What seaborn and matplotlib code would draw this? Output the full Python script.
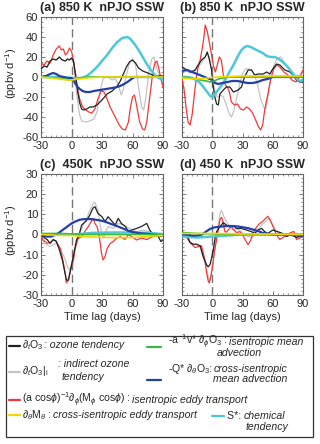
import numpy as np
import pandas as pd
import matplotlib
matplotlib.use("Agg")
import matplotlib.pyplot as plt
from matplotlib.lines import Line2D
from matplotlib.patches import Rectangle
from matplotlib.ticker import MultipleLocator
import seaborn as sns

# ---- data: (lag in days, ppbv/day) ----
a_black = [(-30, 8), (-27, 11), (-24, 10), (-21, 16), (-18, 18), (-15, 17), (-12, 20), (-9, 17), (-6, 16), (-4, 18),
           (-2, 17), (0, 19), (2, 16), (4, 2), (6, -14), (8, -26), (10, -32), (12, -33), (15, -32), (18, -30), (21, -30),
           (25, -28), (30, -23), (35, -17), (40, -14), (45, -9), (48, -4), (51, 3), (54, 10), (57, 15), (60, 17),
           (63, 14), (66, 9), (70, 6), (75, 4), (80, 2), (85, 1), (90, 1)]
a_gray = [(-30, 8), (-27, 11), (-24, 10), (-21, 16), (-18, 18), (-15, 17), (-12, 20), (-9, 17), (-6, 16), (-4, 18),
          (-2, 17), (0, 19), (2, 14), (4, -5), (6, -25), (8, -38), (10, -44), (14, -45), (18, -44), (22, -42), (25, -35),
          (28, -15), (31, -2), (34, 0), (37, -1), (40, -3), (43, -1), (46, -8), (49, -18), (51, -12), (54, 2), (57, 14),
          (60, 18), (63, 12), (66, -10), (69, -30), (71, -33), (73, -22), (76, 5), (79, 18), (81, 20), (84, 8),
          (87, 0), (90, -3)]
a_red = [(-30, 14), (-27, 12), (-24, 16), (-21, 14), (-18, 22), (-15, 28), (-12, 31), (-10, 27), (-8, 28), (-6, 22),
         (-4, 24), (-2, 29), (0, 26), (2, 16), (4, 2), (6, -12), (8, -22), (11, -30), (14, -33), (17, -35), (20, -36),
         (23, -32), (26, -22), (29, -14), (32, -15), (35, -22), (38, -30), (41, -36), (44, -42), (47, -48), (50, -52),
         (53, -53), (56, -45), (58, -30), (60, -20), (62, -18), (64, -28), (67, -45), (70, -52), (72, -53), (74, -45),
         (77, -20), (80, 5), (82, 14), (84, 16), (86, 8), (88, -2), (90, -10)]
a_cyan = [(-30, 0), (-20, 0), (-10, 0), (0, -1), (5, -1), (10, -1), (15, 1), (20, 5), (25, 10), (30, 16), (35, 22),
          (40, 29), (45, 35), (50, 39), (55, 40), (58, 38), (62, 33), (66, 27), (70, 20), (74, 13), (78, 7), (82, 2),
          (86, -1), (90, -3)]
a_blue = [(-30, 0), (-25, 1), (-21, 3), (-18, 4), (-15, 3), (-12, 1), (-8, 0), (-4, -1), (0, -1), (2, -3), (4, -7),
          (6, -10), (8, -12), (11, -14), (14, -15), (18, -15), (22, -14), (28, -13), (34, -12), (40, -11), (45, -10),
          (50, -8), (55, -5), (59, -2), (62, 0), (70, 0), (80, 0), (90, 0)]
a_green = [(-30, 0), (-15, -1), (-6, -2), (-2, -3), (1, -3), (4, -2), (8, -1), (15, 0), (40, 0), (70, 0), (90, 0)]
a_yellow = [(-30, 0), (-20, -1), (-12, -2), (-5, -3), (0, -3), (5, -2), (15, -1), (30, 0), (50, 0), (70, 0), (90, 0)]

b_black = [(-30, 10), (-27, 8), (-24, 7), (-22, 5), (-19, 6), (-17, 7), (-14, 12), (-10.6, 17), (-7, 20), (-5, 25),
           (-3, 18), (-0.7, 7), (1, -10), (2.6, -20), (4.3, -27), (6, -28), (7.6, -17), (11, -13), (14, -10),
           (17.5, -10), (21, -15), (25.7, -13), (29, -10), (32, 0), (35.6, 7), (39, 7), (42, 2), (45.5, 3), (50.5, 3),
           (54, 5), (57, 3), (60, 8), (63.7, 13), (67, 12), (72, 7), (77, 5), (80, 2), (83.5, -3), (86.8, -5), (90, -5)]
b_gray = [(-30, 8), (-26, 6), (-22, 4), (-18, 5), (-14, 10), (-10, 15), (-7, 20), (-5, 24), (-3, 20), (-1, 10),
          (1, -5), (3, -15), (5, -20), (8, -18), (11, -20), (14, -28), (17, -37), (19, -40), (21, -35), (24, -22),
          (27, -8), (30, 3), (33, 8), (36, 8), (39, 7), (42, 2), (45, -8), (48, -22), (51, -30), (53, -32), (56, -15),
          (59, 5), (62, 14), (65, 19), (68, 20), (71, 15), (75, 10), (80, 3), (85, -3), (90, -6)]
b_red = [(-30, -2), (-28, -12), (-26, -30), (-24, -45), (-22, -48), (-20, -38), (-18, -20), (-16, -2), (-14, 10),
         (-12, 17), (-10, 28), (-8, 42), (-7, 52), (-5, 46), (-3, 35), (-1, 24), (1, 12), (3, 5), (5, 12), (7, 20),
         (9, 17), (11, 2), (13, -8), (15, -10), (17, -15), (19, -25), (22, -28), (25, -27), (28, -32), (31, -33),
         (34, -30), (37, -32), (40, -36), (43, -43), (46, -50), (48, -53), (50, -48), (52, -33), (55, -18), (58, -2),
         (61, 8), (64, 12), (67, 10), (71, 5), (75, 2), (79, -3), (83, -5), (86, -1), (88, 3), (90, 7)]
b_cyan = [(-30, 0), (-25, 0), (-20, -1), (-16, -3), (-12, -6), (-8, -11), (-5, -15), (-2, -19), (0, -20), (2, -18),
          (5, -14), (8, -10), (11, -6), (14, -1), (17, 5), (20, 10), (23, 16), (26, 22), (29, 27), (32, 30), (35, 31),
          (38, 30), (42, 28), (46, 26), (50, 24), (54, 21), (58, 20), (62, 20), (66, 18), (70, 15), (74, 11), (78, 6),
          (82, 1), (85, -3), (88, -4), (90, -2)]
b_blue = [(-30, 6), (-25, 7), (-20, 5), (-15, 3), (-10, 1), (-5, -1), (0, -3), (3, -6), (6, -7), (10, -6), (15, -5),
          (20, -4), (25, -4), (30, -5), (35, -6), (40, -6), (45, -5), (50, -3), (55, -2), (60, 0), (70, 0), (80, 0),
          (90, 1)]
b_green = [(-30, 0), (-20, -1), (-12, -3), (-6, -4), (-2, -5), (2, -4), (6, -2), (10, -1), (15, 0), (30, 0), (60, 0),
           (90, 0)]
b_yellow = [(-30, -1), (-15, -2), (-5, -1), (5, 0), (30, 1), (60, 1), (90, 1)]

c_black = [(-30, 0), (-27, -1.5), (-24, -2.5), (-21, -4.4), (-18, -2.5), (-15, -3.3), (-12, -7.5), (-9, -12.6),
           (-7, -17.6), (-5, -22.6), (-3, -22.6), (-1, -17.6), (1, -12.6), (3, -7.7), (5, -2.5), (7, -1), (10, 4.7),
           (15, 7), (18, 9.6), (21, 13), (23, 13.8), (26, 10.5), (30, 8.8), (33, 6.4), (36, 8.8), (39, 7), (43, 4.7),
           (46, 8), (49, 5.5), (53, 4), (56, 1.4), (59, 2.2), (64, 3), (69, 4), (74, 5.5), (77, 2.2), (80, 0),
           (85, -0.7), (88, -3.5), (90, -2.7)]
c_gray = [(-30, 0), (-27, -4.4), (-24, -5), (-21, -6), (-18, -5), (-15, -4.4), (-12, -6), (-9, -9.3), (-6, -12.6),
          (-4, -16), (-2, -17.6), (0, -15), (2, -11), (4, -6), (6, -1.5), (8, 0.5), (11.5, 4.7), (15, 8), (18, 12),
          (21.5, 15.5), (23, 16), (26, 12), (28, 5.5), (29.5, 0.5), (31, -2), (33, 0.5), (36, 4), (41, 3), (46, 5.5),
          (51, 4.7), (57, 3), (64, 1.4), (70, 2.2), (77, 1.4), (84, 0.5), (90, 0)]
c_red = [(-30, 0), (-28, -2.7), (-24, -4.3), (-21, -4), (-18, -2.7), (-15, -3.5), (-11, -7), (-8, -14), (-6, -20),
         (-5, -24), (-3, -22.6), (-1.5, -19), (0, -16), (2, -12.6), (3.5, -7), (6.5, -2), (10, -1), (13, 1.4),
         (16.5, 3.9), (20, 7), (21.5, 8), (23, 5.5), (25, 4), (26.5, 1.4), (28, -3.5), (29.5, -9.3), (31, -12.6),
         (33, -11), (35, -7), (38, -4.5), (41, -3.5), (44, -2), (48, -1), (52.5, -2.5), (56, 0), (59, -1), (64, -2.7),
         (69, -1.8), (74, -2.5), (79, -1.2), (84, -0.8), (90, -0.8)]
c_cyan = [(-30, 0), (0, 0), (10, 0.3), (20, 0.8), (40, 1), (60, 1), (75, 0.8), (90, 0.2)]
c_blue = [(-30, 0), (-25, -1), (-20, -1), (-15, 0), (-12, 1), (-8, 2.5), (-4, 4), (0, 5.5), (4, 6.5), (8, 7.3),
          (12, 7.6), (16, 7.7), (20, 7.6), (24, 7.3), (28, 7), (32, 6.5), (36, 5.8), (40, 5), (44, 4.3), (48, 3.5),
          (52, 2.7), (56, 1.8), (60, 1.2), (65, 0.8), (70, 0.5), (75, 0.3), (80, 0), (85, -0.3), (90, -0.5)]
c_green = [(-30, 0.5), (-10, 0.5), (0, 0.3), (10, 0), (30, 0), (90, 0)]
c_yellow = [(-30, 0), (-10, -0.5), (0, -0.5), (10, -1), (20, -1.2), (40, -1.5), (60, -1.5), (75, -1), (90, -0.5)]

d_black = [(-30, 1.4), (-25, -0.7), (-22, -4), (-19, -4.8), (-15.5, -4.8), (-12, -5.6), (-9, -11), (-5.6, -15),
           (-4, -16), (-2.3, -15), (-0.7, -11.8), (1, -7.7), (2.6, -2.5), (4.3, 1.4), (7.6, 3.9), (11, 5.9), (14, 4.7),
           (17.5, 3.9), (21, 4.3), (24, 3), (29, 3), (34, 2.2), (39, 1.4), (42, 0.5), (45.5, 2.2), (49, 3), (52, 1.4),
           (55, 0.5), (60, 2.2), (65, 1.4), (70, 0.5), (73.6, -1), (78.5, 0), (83.5, -1.5), (87, -0.8), (90, -1.1)]
d_gray = [(-30, 1.4), (-25, -0.5), (-22, -3.5), (-19, -5), (-15.5, -5), (-12, -6), (-9, -11), (-6, -16), (-4, -21),
          (-2.5, -23), (-1, -20), (1, -13), (3, -5), (5, 0.5), (6, 4), (7.6, 10.5), (9.2, 12), (11, 9.5), (14, 6.4),
          (17.5, 3.9), (21, 2.2), (24, 3), (29, 1.4), (34, -0.7), (39, -1.5), (44, 1.4), (49, 4.7), (54, 7), (57, 8),
          (60, 4.7), (63.7, 1.4), (70, 0), (77, 0), (83.5, -1.5), (90, -0.8)]
d_red = [(-30, 1.4), (-27, 0), (-24, -2.5), (-20.5, -4.8), (-17, -6.5), (-14, -6), (-10.6, -5.6), (-7.3, -12.6),
         (-5.6, -19), (-4, -23), (-3, -24), (-1.7, -21.6), (0.3, -16), (2, -9), (4.3, -2.5), (6, 2.5), (7.6, 7.5),
         (9.3, 8.5), (11, 5.5), (12.5, 1.4), (14.3, 1.2), (17, 3), (19, 4), (21, 2.5), (24, 1), (27.4, 1.4),
         (30.7, -0.7), (32.5, -2.5), (35.5, -5), (38, -3), (40.6, 0.5), (43, 3), (46, 5), (50, 6.5), (52, 7.5),
         (55, 9), (57, 7.5), (60.4, 3.9), (63.7, -0.2), (67, -2.5), (70, -1.5), (73, -0.5), (78, 1), (81, 1.5),
         (83.5, -2.5), (86.8, -1.8), (90, -0.8)]
d_cyan = [(-30, -1), (-15, -1.5), (0, -1), (15, -0.5), (30, 0), (60, 0), (90, 0)]
d_blue = [(-30, 0), (-25, 0), (-20, -0.5), (-15, -0.5), (-10, 0), (-6, 1.5), (-2, 2.8), (2, 3.5), (6, 3.8), (10, 4),
          (15, 4.2), (20, 4.2), (25, 4), (30, 3.6), (35, 3.2), (40, 2.5), (45, 1.8), (50, 0.8), (55, 0.3), (60, 0),
          (70, 0), (80, -0.3), (90, -0.5)]
d_green = [(-30, 1), (-15, 0.5), (0, 0.3), (20, 0), (90, 0)]
d_yellow = [(-30, 0.5), (0, 0.5), (30, 0.3), (60, 0.2), (90, 0)]

titles = ["(a) 850 K  nPJO SSW", "(b) 850 K  nPJO SSW", "(c)  450K  nPJO SSW", "(d) 450 K  nPJO SSW"]
xticks = [-30, 0, 30, 60, 90]

# colours / widths
C = dict(gray="#c4c4c4", red="#f03a3a", black="#222222", cyan="#4ec8d8", blue="#2440a8",
         green="#3cb83c", yellow="#f0d800")
LW = dict(gray=0.9, red=0.9, black=0.9, cyan=1.8, blue=1.6, green=1.2, yellow=1.2)
order = ["gray", "red", "black", "cyan", "blue", "green", "yellow"]

sns.set_style("ticks")
plt.rcParams["font.family"] = ["Liberation Sans", "DejaVu Sans"]
plt.rcParams["mathtext.fontset"] = "custom"
plt.rcParams["mathtext.rm"] = "Liberation Sans"
plt.rcParams["mathtext.it"] = "Liberation Sans:italic"
plt.rcParams["axes.unicode_minus"] = False

W, H = 320, 444
fig = plt.figure(figsize=(W / 100, H / 100), dpi=100)


def fx(x):
    return x / W


def fy(y):
    return 1 - y / H


panels = {
    "a": dict(box=(41, 17, 163, 137), ylim=(-60, 60), yt=20, ym=5),
    "b": dict(box=(182, 17, 303, 137), ylim=(-60, 60), yt=20, ym=5),
    "c": dict(box=(41, 174, 163, 295), ylim=(-30, 30), yt=10, ym=2),
    "d": dict(box=(182, 174, 303, 295), ylim=(-30, 30), yt=10, ym=2),
}
series = {
    "a": dict(black=a_black, gray=a_gray, red=a_red, cyan=a_cyan, blue=a_blue, green=a_green, yellow=a_yellow),
    "b": dict(black=b_black, gray=b_gray, red=b_red, cyan=b_cyan, blue=b_blue, green=b_green, yellow=b_yellow),
    "c": dict(black=c_black, gray=c_gray, red=c_red, cyan=c_cyan, blue=c_blue, green=c_green, yellow=c_yellow),
    "d": dict(black=d_black, gray=d_gray, red=d_red, cyan=d_cyan, blue=d_blue, green=d_green, yellow=d_yellow),
}

for i, key in enumerate("abcd"):
    p = panels[key]
    x0, y0, x1, y1 = p["box"]
    ax = fig.add_axes([fx(x0), fy(y1), fx(x1 - x0), (y1 - y0) / H])
    ax.axvline(0, color="#777777", lw=1, ls=(0, (6, 3)), zorder=1)
    for name in order:
        df = pd.DataFrame(series[key][name], columns=["lag", "val"])
        sns.lineplot(data=df, x="lag", y="val", ax=ax, color=C[name], lw=LW[name],
                     estimator=None, sort=False, zorder=3)
    ax.set_xlim(-30, 90)
    ax.set_ylim(*p["ylim"])
    ax.set_xticks(xticks)
    ax.xaxis.set_minor_locator(MultipleLocator(5))
    ax.yaxis.set_major_locator(MultipleLocator(p["yt"]))
    ax.yaxis.set_minor_locator(MultipleLocator(p["ym"]))
    ax.tick_params(which="both", direction="in", top=True, right=True, color="#666666",
                   labelsize=8, pad=2)
    ax.tick_params(axis="x", pad=3)
    ax.tick_params(which="major", length=3, width=0.6)
    ax.tick_params(which="minor", length=1.5, width=0.5)
    for s in ax.spines.values():
        s.set_color("#666666")
        s.set_linewidth(0.8)
    ax.set_xlabel("")
    ax.set_ylabel("")
    if key in "bd":
        ax.tick_params(labelleft=False)
    if key in "cd":
        ax.set_xlabel("Time lag (days)", fontsize=8, labelpad=2)
    fig.text(fx((x0 + x1) / 2), fy(y0 - 9), titles[i], ha="center", va="center",
             fontsize=9, fontweight="bold")
    if key in "ac":
        fig.text(fx(11), fy((y0 + y1) / 2 - 4), r"(ppbv d$^{-1}$)", rotation=90,
                 ha="center", va="center", fontsize=8)

# ---- legend box drawn by hand to mimic the original layout ----
fig.add_artist(Rectangle((fx(6), fy(437)), (313 - 6) / W, (437 - 336) / H, transform=fig.transFigure,
                         fill=False, ec="#333333", lw=0.9))

FS = 7.6
renderer = fig.canvas.get_renderer()


def handle(xa, xb, y, name):
    fig.add_artist(Line2D([fx(xa), fx(xb)], [fy(y), fy(y)], transform=fig.transFigure,
                          color=C[name], lw=1.6))


def put(x, y, parts):
    # parts: list of (text, italic); laid out left to right on a shared baseline
    for s, it in parts:
        t = fig.text(fx(x), fy(y + 3), s, fontsize=FS, style="italic" if it else "normal",
                     ha="left", va="baseline")
        x += t.get_window_extent(renderer).width


handle(9, 20, 346, "black")
put(22, 345, [(r"$\partial_{t}$O$_3$", False), (": ozone tendency", True)])
handle(9, 20, 372, "gray")
put(22, 371, [(r"$\partial_{t}$O$_3|_{\mathrm{i}}$", False)])
put(58, 364, [(": indirect ozone", True)])
put(62, 377, [("tendency", True)])
handle(9, 20, 400, "red")
put(22, 400, [(r"(a cos$\phi$)$^{-1}\partial_{\phi}$(M$_{\phi}$ cos$\phi$) : ", False),
              ("isentropic eddy transport", True)])
handle(9, 20, 415, "yellow")
put(22, 415, [(r"$\partial_{\theta}$M$_{\theta}$ : ", False), ("cross-isentropic eddy transport", True)])

handle(147, 161, 347, "green")
put(168, 342, [(r"-a$^{-1}$v* $\partial_{\phi}$O$_3$ : ", False), ("isentropic mean", True)])
put(217, 353, [("advection", True)])
handle(147, 161, 380, "blue")
put(168, 369, [(r"-Q* $\partial_{\theta}$O$_3$: ", False), ("cross-isentropic", True)])
put(213, 379, [("mean advection", True)])
handle(212, 224, 416, "cyan")
put(227, 416, [("S*: ", False), ("chemical", True)])
put(246, 427, [("tendency", True)])

fig.savefig("out.png", dpi=100)
